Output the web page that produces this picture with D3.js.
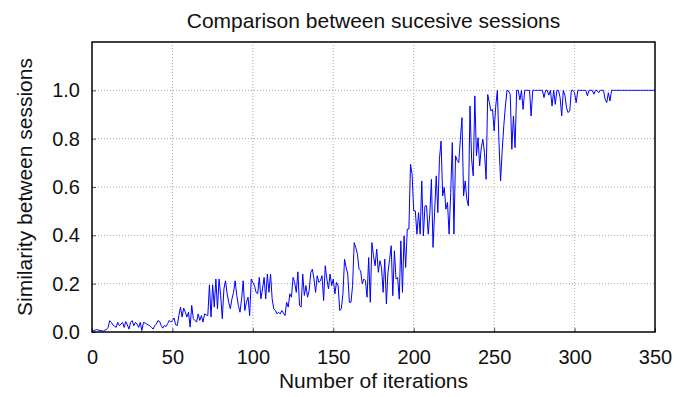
<!DOCTYPE html>
<html>
<head>
<meta charset="utf-8">
<script src="https://cdn.jsdelivr.net/npm/d3@7"></script>
<style>
    body { margin: 0; background: #fff; }
    svg text { font-family: "Liberation Sans", Arial, Helvetica, sans-serif; fill: #111; }
</style>
</head>
<body>
<svg id="chart" width="686" height="397"></svg>
<script>
// similarity between successive sessions, one value per iteration
const similarity = [
    0.006, 0.006, 0.008, 0.010, 0.008, 0.006, 0.006, 0.003, 0.008, 0.010,
    0.019, 0.047, 0.040, 0.029, 0.024, 0.019, 0.040, 0.026, 0.033, 0.040,
    0.019, 0.043, 0.029, 0.012, 0.040, 0.047, 0.026, 0.040, 0.033, 0.019,
    0.040, 0.006, 0.040, 0.037, 0.033, 0.029, 0.026, 0.019, 0.012, 0.026,
    0.033, 0.047, 0.044, 0.027, 0.016, 0.027, 0.023, 0.034, 0.048, 0.041,
    0.048, 0.058, 0.030, 0.027, 0.068, 0.103, 0.062, 0.099, 0.082, 0.062,
    0.082, 0.020, 0.110, 0.055, 0.048, 0.041, 0.075, 0.048, 0.068, 0.041,
    0.075, 0.071, 0.068, 0.195, 0.062, 0.195, 0.103, 0.219, 0.096, 0.219,
    0.151, 0.055, 0.178, 0.212, 0.158, 0.123, 0.096, 0.137, 0.164, 0.212,
    0.151, 0.110, 0.082, 0.137, 0.212, 0.089, 0.123, 0.144, 0.068, 0.219,
    0.205, 0.192, 0.164, 0.158, 0.226, 0.137, 0.178, 0.226, 0.137, 0.240,
    0.164, 0.240, 0.137, 0.096, 0.089, 0.075, 0.082, 0.075, 0.089, 0.078,
    0.068, 0.123, 0.103, 0.158, 0.144, 0.226, 0.205, 0.164, 0.249, 0.110,
    0.103, 0.240, 0.151, 0.192, 0.144, 0.171, 0.247, 0.260, 0.219, 0.164,
    0.233, 0.205, 0.212, 0.233, 0.130, 0.274, 0.220, 0.178, 0.240, 0.192,
    0.219, 0.158, 0.205, 0.192, 0.089, 0.096, 0.158, 0.301, 0.267, 0.240,
    0.123, 0.123, 0.192, 0.370, 0.349, 0.322, 0.260, 0.253, 0.199, 0.219,
    0.212, 0.144, 0.308, 0.123, 0.370, 0.315, 0.274, 0.343, 0.247, 0.295,
    0.267, 0.164, 0.302, 0.116, 0.247, 0.300, 0.357, 0.150, 0.336, 0.219,
    0.226, 0.136, 0.377, 0.164, 0.398, 0.267, 0.426, 0.426, 0.694, 0.653,
    0.501, 0.501, 0.405, 0.494, 0.405, 0.625, 0.398, 0.522, 0.522, 0.405,
    0.488, 0.632, 0.350, 0.500, 0.646, 0.494, 0.715, 0.790, 0.563, 0.598,
    0.508, 0.536, 0.405, 0.577, 0.784, 0.405, 0.729, 0.710, 0.701, 0.797,
    0.887, 0.563, 0.625, 0.550, 0.522, 0.935, 0.715, 0.646, 0.977, 0.729,
    0.804, 0.687, 0.763, 0.797, 0.742, 0.632, 0.983, 0.949, 0.915, 0.921,
    0.832, 0.935, 1.000, 0.784, 0.625, 0.750, 0.853, 0.935, 1.000, 0.997,
    0.983, 0.756, 0.894, 0.763, 1.000, 1.000, 0.960, 1.000, 0.921, 1.000,
    1.000, 1.000, 1.000, 0.894, 1.000, 1.000, 1.000, 1.000, 1.000, 1.000,
    1.000, 0.970, 1.000, 1.000, 0.980, 1.000, 0.935, 1.000, 0.942, 1.000,
    1.000, 0.970, 0.894, 1.000, 0.980, 0.928, 0.908, 0.915, 1.000, 1.000,
    0.990, 0.949, 1.000, 1.000, 1.000, 1.000, 1.000, 1.000, 0.977, 1.000,
    1.000, 1.000, 0.984, 1.000, 1.000, 0.990, 1.000, 1.000, 1.000, 0.963,
    0.949, 0.990, 0.956, 1.000, 1.000, 1.000, 1.000, 1.000, 1.000, 1.000,
    1.000, 1.000, 1.000, 1.000, 1.000, 1.000, 1.000, 1.000, 1.000, 1.000,
    1.000, 1.000, 1.000, 1.000, 1.000, 1.000, 1.000, 1.000, 1.000, 1.000,
    1.000
];

const xTicks = [0, 50, 100, 150, 200, 250, 300, 350];
const yTicks = [0.0, 0.2, 0.4, 0.6, 0.8, 1.0];
const xDomain = [0, 350];
const yDomain = [0, 1.2];

const TITLE = "Comparison between sucesive sessions";
const X_LABEL = "Number of iterations";
const Y_LABEL = "Similarity between sessions";

const margin = { top: 42, right: 31, bottom: 65, left: 92 };
const svg = d3.select("#chart");
const width = +svg.attr("width") - margin.left - margin.right;
const height = +svg.attr("height") - margin.top - margin.bottom;

const x = d3.scaleLinear().domain(xDomain).range([0, width]);
const y = d3.scaleLinear().domain(yDomain).range([height, 0]);

const g = svg.append("g").attr("transform", `translate(${margin.left},${margin.top})`);

// dotted grid
g.append("g").attr("class", "grid")
    .selectAll("line.vx")
    .data(xTicks.slice(1, -1))
    .enter().append("line")
        .attr("x1", (d) => x(d)).attr("x2", (d) => x(d))
        .attr("y1", 0).attr("y2", height);
g.select("g.grid")
    .selectAll("line.hy")
    .data(yTicks.slice(1))
    .enter().append("line")
        .attr("x1", 0).attr("x2", width)
        .attr("y1", (d) => y(d)).attr("y2", (d) => y(d));
g.selectAll("g.grid line")
    .attr("stroke", "#a8a8a8")
    .attr("stroke-width", 1)
    .attr("stroke-dasharray", "1,2");

// axes, ticks pointing inward
const xAxis = d3.axisBottom(x).tickValues(xTicks).tickFormat(d3.format("d"))
    .tickSizeInner(-4).tickSizeOuter(0).tickPadding(18);
const yAxis = d3.axisLeft(y).tickValues(yTicks).tickFormat(d3.format(".1f"))
    .tickSizeInner(-4).tickSizeOuter(0).tickPadding(12);

const gx = g.append("g").attr("transform", `translate(0,${height})`).call(xAxis);
const gy = g.append("g").call(yAxis);
[gx, gy].forEach((a) => {
    a.select(".domain").remove();
    a.selectAll(".tick line").attr("stroke", "#555");
    a.selectAll("text").style("font-size", "20px").attr("fill", "#111");
});

// data line
g.append("clipPath").attr("id", "plot-clip")
    .append("rect").attr("width", width).attr("height", height);

const line = d3.line()
    .x((d, i) => x(i))
    .y((d) => y(d));

g.append("path")
    .datum(similarity)
    .attr("clip-path", "url(#plot-clip)")
    .attr("fill", "none")
    .attr("stroke", "#0000ff")
    .attr("stroke-width", 1)
    .attr("stroke-linejoin", "round")
    .attr("d", line);

// frame
g.append("rect")
    .attr("width", width).attr("height", height)
    .attr("fill", "none").attr("stroke", "#000").attr("stroke-width", 1.5);

// labels
svg.append("text")
    .attr("x", margin.left + width / 2).attr("y", 28)
    .attr("text-anchor", "middle").style("font-size", "21px")
    .text(TITLE);

svg.append("text")
    .attr("x", margin.left + width / 2).attr("y", 388)
    .attr("text-anchor", "middle").style("font-size", "21px")
    .text(X_LABEL);

svg.append("text")
    .attr("transform", `translate(32,${margin.top + height / 2}) rotate(-90)`)
    .attr("text-anchor", "middle").style("font-size", "21px")
    .text(Y_LABEL);
</script>
</body>
</html>
